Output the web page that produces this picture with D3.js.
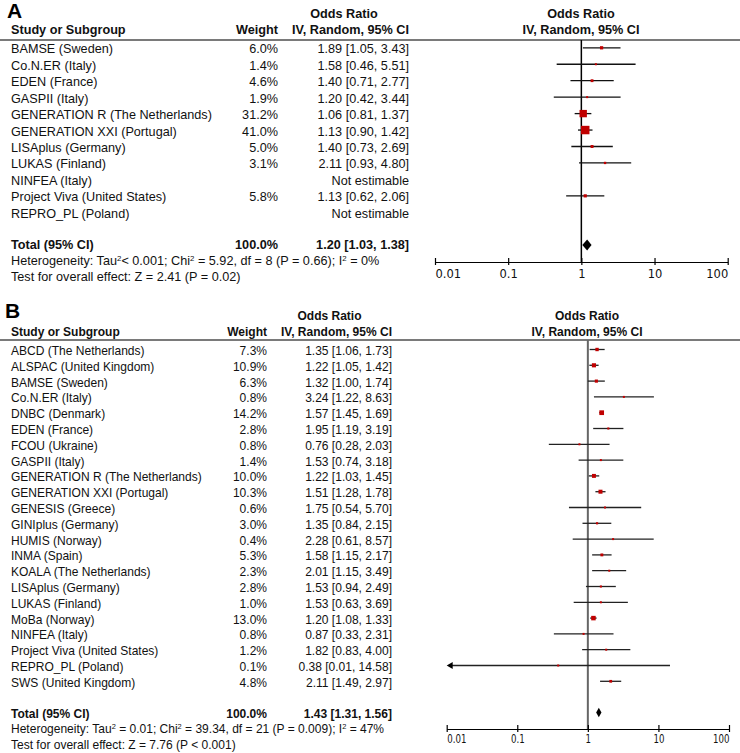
<!DOCTYPE html>
<html>
<head>
<meta charset="utf-8">
<script src="https://cdn.jsdelivr.net/npm/d3@7"></script>
<style>
  html, body { margin: 0; padding: 0; background: #fff; }
  svg { display: block; }
</style>
</head>
<body>
<svg id="chart" width="740" height="753"></svg>
<script>
// ---------- Panel A data ----------
const studiesA = ["BAMSE (Sweden)", "Co.N.ER (Italy)", "EDEN (France)", "GASPII (Italy)",
  "GENERATION R (The Netherlands)", "GENERATION XXI (Portugal)", "LISAplus (Germany)",
  "LUKAS (Finland)", "NINFEA (Italy)", "Project Viva (United States)", "REPRO_PL (Poland)"];
const weightsA = [6.0, 1.4, 4.6, 1.9, 31.2, 41.0, 5.0, 3.1, null, 5.8, null];
const oddsA    = [1.89, 1.58, 1.40, 1.20, 1.06, 1.13, 1.40, 2.11, null, 1.13, null];
const lowerA   = [1.05, 0.46, 0.71, 0.42, 0.81, 0.90, 0.73, 0.93, null, 0.62, null];
const upperA   = [3.43, 5.51, 2.77, 3.44, 1.37, 1.42, 2.69, 4.80, null, 2.06, null];
const totalA   = [1.20, 1.03, 1.38];   // OR, lower, upper
const hetA  = ["Tau", "< 0.001; Chi", " = 5.92, df = 8 (P = 0.66); I", " = 0%"];
const testA = "Test for overall effect: Z = 2.41 (P = 0.02)";

// ---------- Panel B data ----------
const studiesB = ["ABCD (The Netherlands)", "ALSPAC (United Kingdom)", "BAMSE (Sweden)", "Co.N.ER (Italy)",
  "DNBC (Denmark)", "EDEN (France)", "FCOU (Ukraine)", "GASPII (Italy)", "GENERATION R (The Netherlands)",
  "GENERATION XXI (Portugal)", "GENESIS (Greece)", "GINIplus (Germany)", "HUMIS (Norway)", "INMA (Spain)",
  "KOALA (The Netherlands)", "LISAplus (Germany)", "LUKAS (Finland)", "MoBa (Norway)", "NINFEA (Italy)",
  "Project Viva (United States)", "REPRO_PL (Poland)", "SWS (United Kingdom)"];
const weightsB = [7.3, 10.9, 6.3, 0.8, 14.2, 2.8, 0.8, 1.4, 10.0, 10.3, 0.6, 3.0, 0.4, 5.3, 2.3, 2.8, 1.0, 13.0, 0.8, 1.2, 0.1, 4.8];
const oddsB    = [1.35, 1.22, 1.32, 3.24, 1.57, 1.95, 0.76, 1.53, 1.22, 1.51, 1.75, 1.35, 2.28, 1.58, 2.01, 1.53, 1.53, 1.20, 0.87, 1.82, 0.38, 2.11];
const lowerB   = [1.06, 1.05, 1.00, 1.22, 1.45, 1.19, 0.28, 0.74, 1.03, 1.28, 0.54, 0.84, 0.61, 1.15, 1.15, 0.94, 0.63, 1.08, 0.33, 0.83, 0.01, 1.49];
const upperB   = [1.73, 1.42, 1.74, 8.63, 1.69, 3.19, 2.03, 3.18, 1.45, 1.78, 5.70, 2.15, 8.57, 2.17, 3.49, 2.49, 3.69, 1.33, 2.31, 4.00, 14.58, 2.97];
const totalB   = [1.43, 1.31, 1.56];
const hetB  = ["Tau", " = 0.01; Chi", " = 39.34, df = 21 (P = 0.009); I", " = 47%"];
const testB = "Test for overall effect: Z = 7.76 (P < 0.001)";

// ---------- shared ----------
const tickValues = [0.01, 0.1, 1, 10, 100];
const tickLabels = ["0.01", "0.1", "1", "10", "100"];
const xDomain = [0.01, 100];

const FONT = "'Liberation Sans', Arial, sans-serif";
const TICKFONT = "'DejaVu Sans', sans-serif";
const RED = "#c00000";

const svg = d3.select("#chart");

function fitFont(str, target, weight) {
  const t = svg.append("text").attr("font-family", FONT).attr("font-size", 100)
    .attr("font-weight", weight || "normal").text(str);
  const w = t.node().getComputedTextLength();
  t.remove();
  return 100 * target / w;
}

function drawPanel(cfg) {
  const g = svg.append("g");
  const fs = fitFont("GENERATION R (The Netherlands)", cfg.refWidth);
  const txt = (x, y, s, anchor, bold, size) => g.append("text")
    .attr("x", x).attr("y", y).attr("text-anchor", anchor || "start")
    .attr("font-family", FONT).attr("font-size", size || fs)
    .attr("font-weight", bold ? "bold" : "normal").attr("fill", "#111").text(s);

  // Panel letter
  g.append("text").attr("x", cfg.letterX).attr("y", cfg.letterY)
    .attr("font-family", "'Liberation Sans', Arial, sans-serif").attr("font-weight", "bold")
    .attr("font-size", 21).attr("fill", "#000").text(cfg.letter);

  // headers
  txt(cfg.orHeadX, cfg.head1Y, "Odds Ratio", "middle", true);
  txt(cfg.plotHeadX, cfg.head1Y, "Odds Ratio", "middle", true);
  txt(cfg.textX, cfg.head2Y, "Study or Subgroup", "start", true);
  txt(cfg.weightX, cfg.head2Y, "Weight", "end", true);
  txt(cfg.ciX, cfg.head2Y, "IV, Random, 95% CI", "end", true);
  txt(cfg.plotHeadX, cfg.head2Y, "IV, Random, 95% CI", "middle", true);

  g.append("line").attr("x1", 0).attr("x2", 740).attr("y1", cfg.ruleY).attr("y2", cfg.ruleY)
    .attr("stroke", "#7a7a7a").attr("stroke-width", 2);

  const x = d3.scaleLog().domain(xDomain).range(cfg.plotRange);
  const rowY = i => cfg.row0 + cfg.rowStep * i;

  // vertical line of no effect
  g.append("line").attr("x1", x(1)).attr("x2", x(1)).attr("y1", cfg.ruleY).attr("y2", cfg.axisY)
    .attr("stroke", cfg.vColor).attr("stroke-width", cfg.vWidth);

  // rows
  cfg.studies.forEach((s, i) => {
    const y = rowY(i);
    txt(cfg.textX, y, s);
    const w = cfg.weights[i], or = cfg.odds[i], lo = cfg.lower[i], hi = cfg.upper[i];
    if (or == null) {
      txt(cfg.ciX, y, "Not estimable", "end");
      return;
    }
    txt(cfg.weightX, y, w.toFixed(1) + "%", "end");
    txt(cfg.ciX, y, `${or.toFixed(2)} [${lo.toFixed(2)}, ${hi.toFixed(2)}]`, "end");
    const cy = y - cfg.markOff;
    const clipLo = lo <= xDomain[0];
    const x1 = x(Math.max(lo, xDomain[0])), x2 = x(Math.min(hi, xDomain[1]));
    g.append("line").attr("x1", clipLo ? x1 + 4 : x1).attr("x2", x2).attr("y1", cy).attr("y2", cy)
      .attr("stroke", cfg.ciColor).attr("stroke-width", 1.3);
    if (clipLo) {
      g.append("path").attr("d", `M${x1},${cy}L${x1 + 6},${cy - 3.5}L${x1 + 6},${cy + 3.5}Z`).attr("fill", "#000");
    }
    const side = Math.max(2, cfg.sq * Math.sqrt(w));
    g.append("rect").attr("x", x(or) - side / 2).attr("y", cy - side / 2)
      .attr("width", side).attr("height", side).attr("fill", RED);
  });

  // total
  txt(cfg.textX, cfg.totalY, "Total (95% CI)", "start", true);
  txt(cfg.weightX, cfg.totalY, "100.0%", "end", true);
  const [tOr, tLo, tHi] = cfg.total;
  txt(cfg.ciX, cfg.totalY, `${tOr.toFixed(2)} [${tLo.toFixed(2)}, ${tHi.toFixed(2)}]`, "end", true);
  const dy = cfg.diamY, dh = cfg.diamH / 2;
  g.append("path").attr("d", `M${x(tLo)},${dy}L${x(tOr)},${dy - dh}L${x(tHi)},${dy}L${x(tOr)},${dy + dh}Z`)
    .attr("fill", "#000");

  // heterogeneity line with superscripts
  const het = g.append("text").attr("x", cfg.textX).attr("y", cfg.hetY)
    .attr("font-family", FONT).attr("font-size", fs).attr("fill", "#111");
  het.append("tspan").text("Heterogeneity: " + cfg.het[0]);
  het.append("tspan").attr("dy", -4.5).attr("font-size", fs * 0.62).text("2");
  het.append("tspan").attr("dy", 4.5).text(cfg.het[1]);
  het.append("tspan").attr("dy", -4.5).attr("font-size", fs * 0.62).text("2");
  het.append("tspan").attr("dy", 4.5).text(cfg.het[2]);
  het.append("tspan").attr("dy", -4.5).attr("font-size", fs * 0.62).text("2");
  het.append("tspan").attr("dy", 4.5).text(cfg.het[3]);
  txt(cfg.textX, cfg.testY, cfg.test);

  // axis
  const axis = d3.axisBottom(x).tickValues(tickValues)
    .tickFormat((d, i) => tickLabels[i]).tickSizeInner(3).tickSizeOuter(0);
  const ag = g.append("g").attr("transform", `translate(0,${cfg.axisY})`).call(axis);
  ag.select(".domain").attr("stroke", "#000").attr("stroke-width", 1.2);
  ag.selectAll(".tick line").attr("y1", -4).attr("y2", 3).attr("stroke", "#000").attr("stroke-width", 1.2);
  ag.selectAll(".tick text")
    .attr("y", cfg.tickLabY - cfg.axisY).attr("dy", 0)
    .attr("font-family", TICKFONT).attr("font-size", cfg.tickFs).attr("fill", "#111")
    .attr("text-anchor", (d, i) => i === 0 ? "start" : (i === tickValues.length - 1 ? "end" : "middle"))
    .attr("transform", `scale(${cfg.tickSx},1)`);
}

drawPanel({
  letter: "A", letterX: 7, letterY: 17.5,
  studies: studiesA, weights: weightsA, odds: oddsA, lower: lowerA, upper: upperA, total: totalA,
  het: hetA, test: testA,
  refWidth: 201,
  textX: 11, weightX: 278, ciX: 409, orHeadX: 344, plotHeadX: 581,
  head1Y: 18, head2Y: 34, ruleY: 40,
  row0: 53.3, rowStep: 16.45, markOff: 5.5,
  totalY: 249, diamY: 245, diamH: 11, hetY: 265, testY: 281,
  plotRange: [435, 727.7], axisY: 262, tickLabY: 277.5, tickFs: 11.5, tickSx: 1,
  vColor: "#000", vWidth: 1.5, ciColor: "#111", sq: 1.32
});

drawPanel({
  letter: "B", letterX: 5, letterY: 318,
  studies: studiesB, weights: weightsB, odds: oddsB, lower: lowerB, upper: upperB, total: totalB,
  het: hetB, test: testB,
  refWidth: 191,
  textX: 11, weightX: 267, ciX: 392, orHeadX: 329.5, plotHeadX: 587,
  head1Y: 320, head2Y: 336, ruleY: 340,
  row0: 355, rowStep: 15.8, markOff: 5.5,
  totalY: 718, diamY: 712.5, diamH: 9.5, hetY: 733, testY: 749,
  plotRange: [446.7, 729], axisY: 729, tickLabY: 743, tickFs: 11.5, tickSx: 0.75,
  vColor: "#666", vWidth: 2, ciColor: "#222", sq: 1.25
});
</script>
</body>
</html>
